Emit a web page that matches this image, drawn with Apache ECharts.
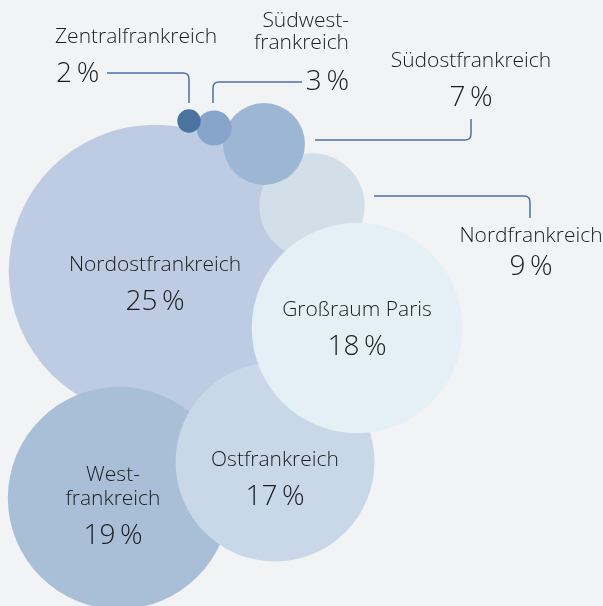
<!DOCTYPE html>
<html>
<head>
<meta charset="utf-8">
<script src="https://cdn.jsdelivr.net/npm/echarts@6/dist/echarts.min.js"></script>
<style>
  html, body { margin: 0; padding: 0; background: #f2f3f5; }
  #chart { width: 603px; height: 606px; }
</style>
</head>
<body>
<div id="chart"></div>
<script>
// regions in drawing order (back to front)
const regions = ['Nordostfrankreich', 'Westfrankreich', 'Ostfrankreich', 'Nordfrankreich',
  'Großraum Paris', 'Südostfrankreich', 'Südwestfrankreich', 'Zentralfrankreich'];
const labels = ['Nordostfrankreich', 'West-\nfrankreich', 'Ostfrankreich', 'Nordfrankreich',
  'Großraum Paris', 'Südostfrankreich', 'Südwest-\nfrankreich', 'Zentralfrankreich'];
const shares = [25, 19, 17, 9, 18, 7, 3, 2];
const posX = [155, 119, 275, 312, 357, 264, 214, 189];
const posY = [271, 498, 462, 206, 328, 144, 128, 121];

const colors = ['#bdcce3', '#a8bfd7', '#c8d8e9', '#d2dee8', '#e4eff6', '#9cb6d4', '#87a5cb', '#4a73a0'];
const font = '"Open Sans", "Noto Sans", sans-serif';
const weight = 300;
const textColor = '#1c1c1c';
const lineColor = '#4d72a3';
const pxPerPercent = 11.7; // bubble diameter per percentage point

// label placement for bubbles with the text inside
const inside = {
  'Nordostfrankreich': [0, 19],
  'Westfrankreich': [-6, 14],
  'Ostfrankreich': [0, 23],
  'Großraum Paris': [0, 7]
};
// callouts for small bubbles: leader line points, text anchor, alignment
const callouts = {
  'Nordfrankreich': { path: [[374, 196], [530, 196], [530, 218]], name: [531, 236], pct: [531, 267], align: 'center' },
  'Südostfrankreich': { path: [[315, 140], [471, 140], [471, 119]], name: [471, 61], pct: [471, 98], align: 'center' },
  'Südwestfrankreich': { path: [[213, 103], [213, 82], [302, 82]], name: [349, 32], pct: [349, 82], align: 'right' },
  'Zentralfrankreich': { path: [[189, 103], [189, 73], [107, 73]], name: [55, 37], pct: [56, 74], align: 'left' }
};

const pctText = v => v + '\u2009%';

const bubbleData = regions.map((name, i) => {
  const item = {
    name: name,
    value: [posX[i], posY[i], shares[i]],
    itemStyle: { color: colors[i], opacity: 1 }
  };
  if (inside[name]) {
    item.label = {
      show: true,
      position: 'inside',
      offset: inside[name],
      formatter: `{n|${labels[i]}}\n{p|${pctText(shares[i])}}`
    };
  }
  return item;
});

const calloutData = regions
  .map((name, i) => ({ name: name, i: i }))
  .filter(d => callouts[d.name])
  .map(d => ({ name: d.name, value: [posX[d.i], posY[d.i], shares[d.i], d.i] }));

function roundedPath(pts, api) {
  const p = pts.map(q => api.coord(q));
  const r = 6;
  const [a, b, c] = p;
  const d1 = [Math.sign(b[0] - a[0]), Math.sign(b[1] - a[1])];
  const d2 = [Math.sign(c[0] - b[0]), Math.sign(c[1] - b[1])];
  return `M${a[0]} ${a[1]} L${b[0] - d1[0] * r} ${b[1] - d1[1] * r} ` +
    `Q${b[0]} ${b[1]} ${b[0] + d2[0] * r} ${b[1] + d2[1] * r} L${c[0]} ${c[1]}`;
}

const chart = echarts.init(document.getElementById('chart'));
chart.setOption({
  backgroundColor: '#f2f3f5',
  animation: false,
  grid: { left: 0, right: 0, top: 0, bottom: 0 },
  xAxis: { type: 'value', min: 0, max: 603, show: false },
  yAxis: { type: 'value', min: 0, max: 606, inverse: true, show: false },
  series: [
    {
      type: 'scatter',
      symbol: 'circle',
      symbolSize: v => v[2] * pxPerPercent,
      itemStyle: { opacity: 1 },
      data: bubbleData,
      label: {
        color: textColor,
        fontFamily: font,
        rich: {
          n: { fontSize: 21, fontWeight: weight, lineHeight: 24, color: textColor, fontFamily: font, align: 'center' },
          p: { fontSize: 28, fontWeight: weight, lineHeight: 50, color: textColor, fontFamily: font, align: 'center' }
        }
      },
      emphasis: { disabled: true }
    },
    {
      type: 'custom',
      data: calloutData,
      z: 3,
      renderItem: (params, api) => {
        const idx = api.value(3);
        const name = regions[idx];
        const c = callouts[name];
        const namePos = api.coord(c.name);
        const pctPos = api.coord(c.pct);
        return {
          type: 'group',
          children: [
            {
              type: 'path',
              shape: { pathData: roundedPath(c.path, api) },
              style: { stroke: lineColor, lineWidth: 1.5, fill: null }
            },
            {
              type: 'text',
              style: {
                text: labels[idx], x: namePos[0], y: namePos[1],
                align: c.align, verticalAlign: 'middle', lineHeight: 22,
                fontSize: 21, fontWeight: weight, fontFamily: font, fill: textColor
              }
            },
            {
              type: 'text',
              style: {
                text: pctText(shares[idx]), x: pctPos[0], y: pctPos[1],
                align: c.align, verticalAlign: 'middle',
                fontSize: 28, fontWeight: weight, fontFamily: font, fill: textColor
              }
            }
          ]
        };
      }
    }
  ]
});
</script>
</body>
</html>
